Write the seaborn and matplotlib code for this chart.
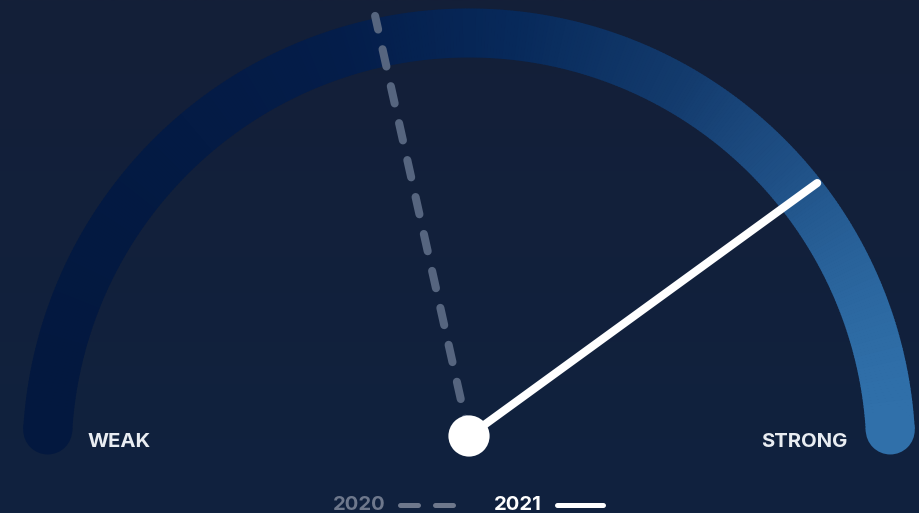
import numpy as np
import matplotlib
matplotlib.use("Agg")
import matplotlib.pyplot as plt
from matplotlib.patches import Wedge, Circle
from matplotlib.colors import LinearSegmentedColormap
import seaborn as sns

# Gauge readings on a 0-100 scale (0 = weak, 100 = strong)
years = ["2020", "2021"]
scores = [43, 80]
end_labels = ["WEAK", "STRONG"]

sns.set_theme(style="dark")
plt.rcParams["font.family"] = ["Inter", "DejaVu Sans"]

BG_TOP = "#141f38"
BG_BOTTOM = "#10223f"
TEXT = "#e9edf2"
MUTED = "#6e788c"
DASH = "#56657f"

W, H, DPI = 920, 513, 100
R = 422.0  # arc radius in pixels, used as data unit
fig = plt.figure(figsize=(W / DPI, H / DPI), dpi=DPI)
ax = fig.add_axes([0, 0, 1, 1])
x_lo, x_hi = -469 / R, (W - 469) / R
y_lo, y_hi = -(H - 455) / R, 455 / R
ax.set_xlim(x_lo, x_hi)
ax.set_ylim(y_lo, y_hi)
ax.set_axis_off()

# soft vertical background gradient
bg = LinearSegmentedColormap.from_list("bg", [BG_BOTTOM, BG_TOP])
ax.imshow(np.linspace(0, 1, 256)[:, None], cmap=bg, origin="lower",
          extent=[x_lo, x_hi, y_lo, y_hi], aspect="auto", zorder=0)

# gauge arc with a left-to-right colour ramp
arc_cmap = LinearSegmentedColormap.from_list(
    "arc",
    [(0.0, "#03183f"), (0.35, "#041d4a"), (0.55, "#07295a"),
     (0.75, "#133b6d"), (0.88, "#205187"), (1.0, "#3070aa")])
band = 49 / R
a0, a1 = 3.4, 176.6
steps = 400
edges = np.linspace(a0, a1, steps + 1)
for lo, hi in zip(edges[:-1], edges[1:]):
    mid = np.radians((lo + hi) / 2)
    t = (np.cos(mid) + 1) / 2
    ax.add_patch(Wedge((0, 0), 1 + band / 2, lo - 0.05, hi + 0.05, width=band,
                       facecolor=arc_cmap(t), edgecolor="none", zorder=1))
for ang in (a0, a1):
    r = np.radians(ang)
    t = (np.cos(r) + 1) / 2
    ax.add_patch(Circle((np.cos(r), np.sin(r)), band / 2,
                        facecolor=arc_cmap(t), edgecolor="none", zorder=1))

# needles
pivot = np.array([0.0, 19 / R])
needle_len = 1.02
lw = 5.8
for year, score in zip(years, scores):
    ang = np.radians(180 - 1.8 * score)
    tip = pivot + needle_len * np.array([np.cos(ang), np.sin(ang)])
    if year == "2020":
        sns.lineplot(x=[pivot[0], tip[0]], y=[pivot[1], tip[1]], sort=False,
                     ax=ax, color=DASH, linewidth=lw, zorder=3)
        l = ax.lines[-1]
        l.set_dashes((2.2, 2.5))
        l.set_dash_capstyle("round")
    else:
        sns.lineplot(x=[pivot[0], tip[0]], y=[pivot[1], tip[1]], sort=False,
                     ax=ax, color="white", linewidth=lw, zorder=4)
        ax.lines[-1].set_solid_capstyle("round")

# pivot hub
sns.scatterplot(x=[pivot[0]], y=[pivot[1]], ax=ax, s=880, color="white",
                edgecolor="none", zorder=5)

# end labels
label_kw = dict(fontsize=14.6, fontweight="bold", ha="center", va="center", zorder=6)
ax.text((119.5 - 469) / R, 13 / R, end_labels[0], color=TEXT, **label_kw)
ax.text((804 - 469) / R, 13 / R, end_labels[1], color=TEXT, **label_kw)

# legend
ly = -50 / R
ax.text((359.5 - 469) / R, ly, years[0], color=MUTED, **label_kw)
for x0, x1 in ((400, 418), (435, 453)):
    ax.plot([(x0 - 469) / R, (x1 - 469) / R], [ly, ly], color=MUTED,
            linewidth=3.6, solid_capstyle="round", zorder=6)
ax.text((517.5 - 469) / R, ly, years[1], color="white", **label_kw)
ax.plot([(557 - 469) / R, (603 - 469) / R], [ly, ly], color="white",
        linewidth=3.6, solid_capstyle="round", zorder=6)

fig.savefig("out.png", dpi=DPI, facecolor=BG_TOP)
